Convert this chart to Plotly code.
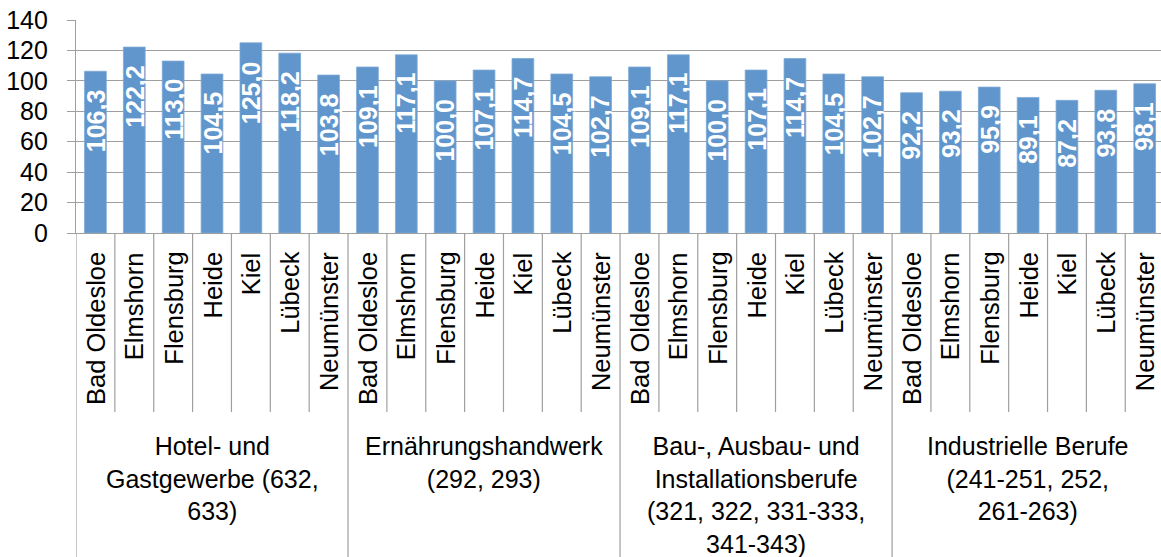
import plotly.graph_objects as go

cities = ["Bad Oldesloe", "Elmshorn", "Flensburg", "Heide", "Kiel", "Lübeck", "Neumünster"]
groups = [
    "Hotel- und<br>Gastgewerbe (632,<br>633)",
    "Ernährungshandwerk<br>(292, 293)",
    "Bau-, Ausbau- und<br>Installationsberufe<br>(321, 322, 331-333,<br>341-343)",
    "Industrielle Berufe<br>(241-251, 252,<br>261-263)",
]
hotel = [106.3, 122.2, 113.0, 104.5, 125.0, 118.2, 103.8]
ernaehrung = [109.1, 117.1, 100.0, 107.1, 114.7, 104.5, 102.7]
bau = [109.1, 117.1, 100.0, 107.1, 114.7, 104.5, 102.7]
industrie = [92.2, 93.2, 95.9, 89.1, 87.2, 93.8, 98.1]
y_ticks = [0, 20, 40, 60, 80, 100, 120, 140]

values = hotel + ernaehrung + bau + industrie
n = len(values)
xs = list(range(n))
labels = [f"{v:.1f}".replace(".", ",") for v in values]

W, H = 1161, 557
TOP, BOTTOM = 20, 233


def py(p):
    return (BOTTOM - p) / (BOTTOM - TOP)


GRID = "#9F9F9F"
FONT = "Liberation Sans, Arial, sans-serif"

fig = go.Figure()
fig.add_trace(go.Bar(
    x=xs, y=values,
    marker=dict(color="#6096CC", line=dict(color="#7EA9D6", width=0.8)),
    hoverinfo="skip",
))

ann = []
for i, (v, t) in enumerate(zip(values, labels)):
    ann.append(dict(x=i, y=v, xref="x", yref="y", text=t, textangle=-90,
                    xanchor="center", yanchor="top", yshift=-16, showarrow=False,
                    font=dict(family=FONT, size=25, color="white", weight="bold")))
for i in range(n):
    ann.append(dict(x=i, y=py(250), xref="x", yref="paper", text=cities[i % 7],
                    textangle=-90, xanchor="center", yanchor="top", showarrow=False,
                    font=dict(family=FONT, size=25.5, color="black")))
for g, gt in enumerate(groups):
    ann.append(dict(x=7 * g + 3, y=py(430), xref="x", yref="paper", text=gt,
                    xanchor="center", yanchor="top", align="center", showarrow=False,
                    font=dict(family=FONT, size=25, color="black")))

shapes = []
for k in range(n + 1):
    bottom = 560 if k % 7 == 0 else 412
    shapes.append(dict(type="line", xref="x", yref="paper", x0=k - 0.5, x1=k - 0.5,
                       y0=py(BOTTOM), y1=py(bottom), line=dict(color=GRID, width=1.2)))

fig.update_layout(
    width=W, height=H,
    margin=dict(l=76, r=0, t=TOP, b=H - BOTTOM, pad=0, autoexpand=False),
    paper_bgcolor="white", plot_bgcolor="white",
    bargap=0.44, showlegend=False,
    annotations=ann, shapes=shapes,
    font=dict(family=FONT, color="black"),
)
fig.update_xaxes(range=[-0.5, 27.42], showticklabels=False, showgrid=False,
                 zeroline=False, showline=True, linecolor=GRID, linewidth=1.2, ticks="",
                 automargin=False)
fig.update_yaxes(range=[0, 140], tickvals=y_ticks, showgrid=True, gridcolor=GRID,
                 gridwidth=1.2, zeroline=False, showline=True, linecolor=GRID,
                 linewidth=1.2, ticks="outside", ticklen=8, tickcolor=GRID, tickwidth=1.2,
                 tickfont=dict(family=FONT, size=25, color="black"),
                 ticklabelstandoff=14, automargin=False)

fig.write_html("out.html", config={"displayModeBar": False},
               post_script="document.body.style.margin='0';document.body.style.overflow='hidden';")
